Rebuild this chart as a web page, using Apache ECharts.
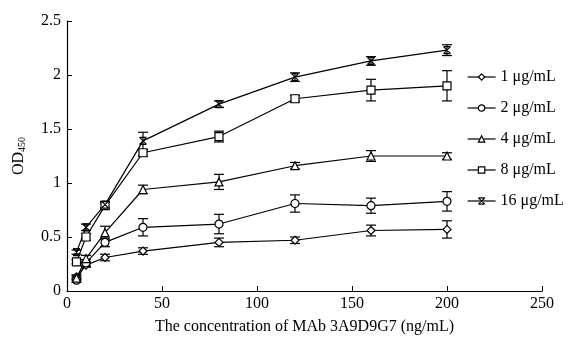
<!DOCTYPE html>
<html>
<head>
<meta charset="utf-8">
<script src="https://cdn.jsdelivr.net/npm/echarts@6/dist/echarts.min.js"></script>
<style>
  html, body { margin: 0; padding: 0; background: #fff; }
  #chart { width: 578px; height: 340px; }
</style>
</head>
<body>
<div id="chart"></div>
<script>
// concentration of MAb (ng/mL)
var conc = [5, 10, 20, 40, 80, 120, 160, 200];

var names = ['1 \u03bcg/mL', '2 \u03bcg/mL', '4 \u03bcg/mL', '8 \u03bcg/mL', '16 \u03bcg/mL'];

var od_1 = [0.13, 0.24, 0.31, 0.37, 0.45, 0.47, 0.56, 0.57];
var od_2 = [0.10, 0.26, 0.45, 0.59, 0.62, 0.81, 0.79, 0.83];
var od_4 = [0.12, 0.30, 0.54, 0.94, 1.01, 1.16, 1.25, 1.25];
var od_8 = [0.27, 0.50, 0.79, 1.28, 1.43, 1.78, 1.86, 1.90];
var od_16 = [0.36, 0.59, 0.80, 1.39, 1.73, 1.98, 2.13, 2.23];

var sd_1 = [0.02, 0.02, 0.03, 0.03, 0.04, 0.03, 0.05, 0.08];
var sd_2 = [0.02, 0.03, 0.04, 0.08, 0.09, 0.08, 0.07, 0.09];
var sd_4 = [0.02, 0.03, 0.06, 0.04, 0.07, 0.03, 0.05, 0.03];
var sd_8 = [0.02, 0.03, 0.03, 0.03, 0.05, 0.03, 0.10, 0.14];
var sd_16 = [0.02, 0.03, 0.03, 0.08, 0.03, 0.04, 0.04, 0.05];

var means = [od_1, od_2, od_4, od_8, od_16];
var errs = [sd_1, sd_2, sd_4, sd_8, sd_16];
var symbols = ['diamond', 'circle', 'triangle', 'rect',
  'path://M0,0 L10,10 M10,0 L0,10 M0,0 L10,0 M0,10 L10,10'];
var sizes = [8, 8, 8, 8, 7];

var font = '"Liberation Serif", "DejaVu Serif", serif';

var series = [];
names.forEach(function (n, i) {
  series.push({
    name: n,
    type: 'line',
    data: conc.map(function (c, k) { return [c, means[i][k]]; }),
    symbol: symbols[i],
    symbolSize: sizes[i],
    showSymbol: true,
    lineStyle: { color: '#000', width: 1.2 },
    itemStyle: { color: '#fff', borderColor: '#000', borderWidth: 1.2 },
    z: 3
  });
  // error bars
  series.push({
    name: n,
    type: 'custom',
    data: conc.map(function (c, k) { return [c, means[i][k] - errs[i][k], means[i][k] + errs[i][k]]; }),
    renderItem: function (params, api) {
      var lo = api.coord([api.value(0), api.value(1)]);
      var hi = api.coord([api.value(0), api.value(2)]);
      var w = 5;
      var st = { stroke: '#000', lineWidth: 1.2 };
      return {
        type: 'group',
        children: [
          { type: 'line', shape: { x1: lo[0], y1: lo[1], x2: hi[0], y2: hi[1] }, style: st },
          { type: 'line', shape: { x1: lo[0] - w, y1: lo[1], x2: lo[0] + w, y2: lo[1] }, style: st },
          { type: 'line', shape: { x1: hi[0] - w, y1: hi[1], x2: hi[0] + w, y2: hi[1] }, style: st }
        ]
      };
    },
    z: 2
  });
});

var chart = echarts.init(document.getElementById('chart'));
chart.setOption({
  animation: false,
  backgroundColor: '#fff',
  grid: { left: 67, top: 21, width: 475, height: 273 },
  legend: {
    data: names.map(function (n) { return { name: n }; }),
    orient: 'vertical',
    left: 462,
    top: 64,
    itemWidth: 28,
    itemHeight: 8,
    itemGap: 15,
    itemStyle: { borderWidth: 1.2 },
    lineStyle: { width: 1.2 },
    textStyle: { fontFamily: font, fontSize: 16, color: '#000' }
  },
  xAxis: {
    type: 'value',
    min: 0, max: 250, interval: 50,
    name: 'The concentration of MAb 3A9D9G7 (ng/mL)',
    nameLocation: 'middle',
    nameGap: 28,
    nameTextStyle: { fontFamily: font, fontSize: 16, color: '#000' },
    axisLine: { lineStyle: { color: '#000', width: 1.2 } },
    axisTick: { inside: true, length: 5, lineStyle: { color: '#000' } },
    axisLabel: { fontFamily: font, fontSize: 16, color: '#000', margin: 5 },
    splitLine: { show: false }
  },
  yAxis: {
    type: 'value',
    min: 0, max: 2.5, interval: 0.5,
    name: '{a|OD}{b|450}',
    nameLocation: 'middle',
    nameRotate: 90,
    nameGap: 40,
    nameTextStyle: {
      rich: {
        a: { fontFamily: font, fontSize: 16, color: '#000' },
        b: { fontFamily: font, fontSize: 10, color: '#000', verticalAlign: 'bottom', padding: [6, 0, 0, 0] }
      }
    },
    axisLine: { show: true, lineStyle: { color: '#000', width: 1.2 } },
    axisTick: { show: true, inside: true, length: 5, lineStyle: { color: '#000' } },
    axisLabel: { fontFamily: font, fontSize: 16, color: '#000', margin: 6 },
    splitLine: { show: false }
  },
  series: series
});
</script>
</body>
</html>
